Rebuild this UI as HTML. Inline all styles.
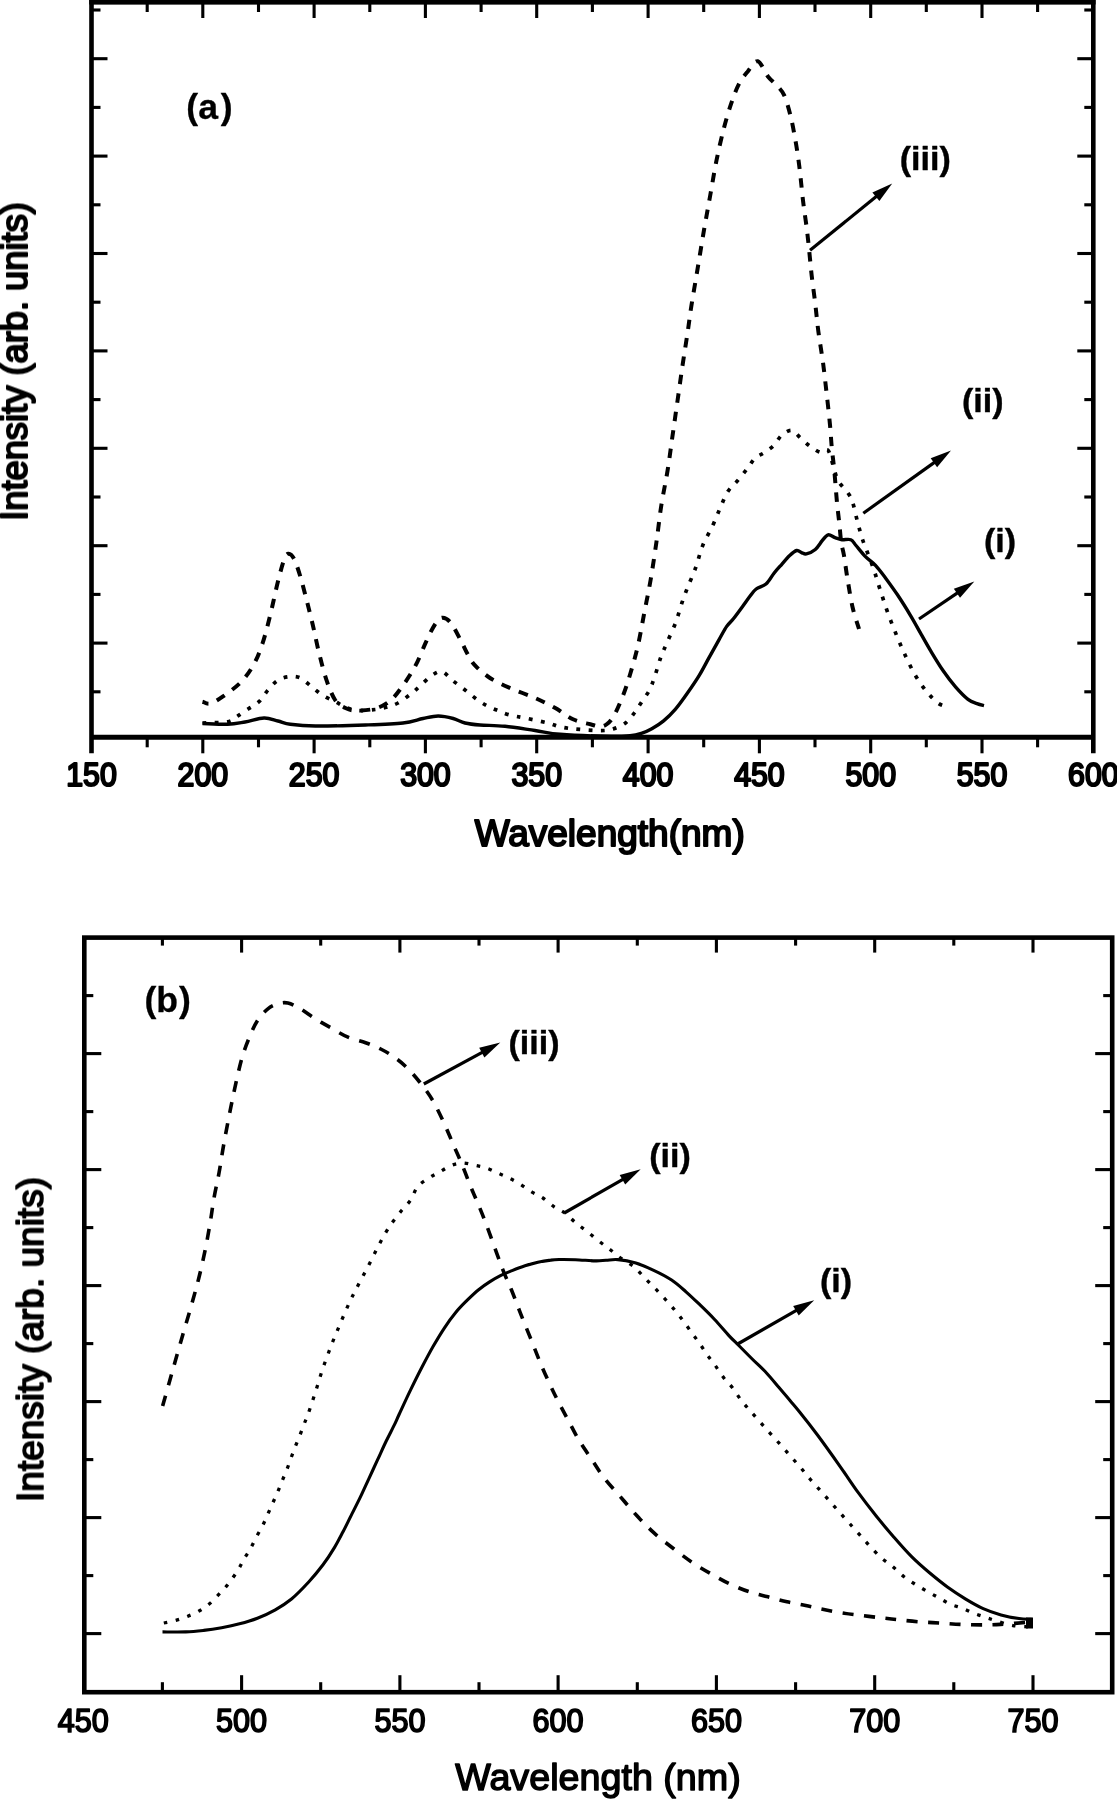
<!DOCTYPE html>
<html lang="en"><head><meta charset="utf-8"><title>Spectra</title>
<style>html,body{margin:0;padding:0;background:#fff}body{width:1117px;height:1800px;overflow:hidden}svg{display:block}</style></head>
<body>
<svg width="1117" height="1800" viewBox="0 0 1117 1800">
<defs><filter id="bl" x="-2%" y="-2%" width="104%" height="104%"><feGaussianBlur stdDeviation="0.75"/></filter></defs>
<rect width="100%" height="100%" fill="#fff"/>
<g filter="url(#bl)">
<g stroke="#000" fill="none" stroke-width="4.6" stroke-linecap="butt">
<path d="M91.5,753.3 V2.0 H1093.3 V753.3"/>
<path d="M91.5,737.3 H1093.3" stroke-width="5"/>
<path d="M89.2,-0.8 H1095.6" stroke-width="10.4"/>
</g>
<g stroke="#000" stroke-width="3.1">
<line x1="147.2" y1="2.0" x2="147.2" y2="12.0"/>
<line x1="147.2" y1="737.3" x2="147.2" y2="747.3"/>
<line x1="202.8" y1="2.0" x2="202.8" y2="18.0"/>
<line x1="202.8" y1="737.3" x2="202.8" y2="753.3"/>
<line x1="258.5" y1="2.0" x2="258.5" y2="12.0"/>
<line x1="258.5" y1="737.3" x2="258.5" y2="747.3"/>
<line x1="314.1" y1="2.0" x2="314.1" y2="18.0"/>
<line x1="314.1" y1="737.3" x2="314.1" y2="753.3"/>
<line x1="369.8" y1="2.0" x2="369.8" y2="12.0"/>
<line x1="369.8" y1="737.3" x2="369.8" y2="747.3"/>
<line x1="425.4" y1="2.0" x2="425.4" y2="18.0"/>
<line x1="425.4" y1="737.3" x2="425.4" y2="753.3"/>
<line x1="481.1" y1="2.0" x2="481.1" y2="12.0"/>
<line x1="481.1" y1="737.3" x2="481.1" y2="747.3"/>
<line x1="536.7" y1="2.0" x2="536.7" y2="18.0"/>
<line x1="536.7" y1="737.3" x2="536.7" y2="753.3"/>
<line x1="592.4" y1="2.0" x2="592.4" y2="12.0"/>
<line x1="592.4" y1="737.3" x2="592.4" y2="747.3"/>
<line x1="648.1" y1="2.0" x2="648.1" y2="18.0"/>
<line x1="648.1" y1="737.3" x2="648.1" y2="753.3"/>
<line x1="703.7" y1="2.0" x2="703.7" y2="12.0"/>
<line x1="703.7" y1="737.3" x2="703.7" y2="747.3"/>
<line x1="759.4" y1="2.0" x2="759.4" y2="18.0"/>
<line x1="759.4" y1="737.3" x2="759.4" y2="753.3"/>
<line x1="815.0" y1="2.0" x2="815.0" y2="12.0"/>
<line x1="815.0" y1="737.3" x2="815.0" y2="747.3"/>
<line x1="870.7" y1="2.0" x2="870.7" y2="18.0"/>
<line x1="870.7" y1="737.3" x2="870.7" y2="753.3"/>
<line x1="926.3" y1="2.0" x2="926.3" y2="12.0"/>
<line x1="926.3" y1="737.3" x2="926.3" y2="747.3"/>
<line x1="982.0" y1="2.0" x2="982.0" y2="18.0"/>
<line x1="982.0" y1="737.3" x2="982.0" y2="753.3"/>
<line x1="1037.6" y1="2.0" x2="1037.6" y2="12.0"/>
<line x1="1037.6" y1="737.3" x2="1037.6" y2="747.3"/>
<line x1="91.5" y1="10.0" x2="100.5" y2="10.0"/>
<line x1="1093.3" y1="10.0" x2="1084.3" y2="10.0"/>
<line x1="91.5" y1="58.7" x2="107.5" y2="58.7"/>
<line x1="1093.3" y1="58.7" x2="1077.3" y2="58.7"/>
<line x1="91.5" y1="107.4" x2="100.5" y2="107.4"/>
<line x1="1093.3" y1="107.4" x2="1084.3" y2="107.4"/>
<line x1="91.5" y1="156.1" x2="107.5" y2="156.1"/>
<line x1="1093.3" y1="156.1" x2="1077.3" y2="156.1"/>
<line x1="91.5" y1="204.8" x2="100.5" y2="204.8"/>
<line x1="1093.3" y1="204.8" x2="1084.3" y2="204.8"/>
<line x1="91.5" y1="253.5" x2="107.5" y2="253.5"/>
<line x1="1093.3" y1="253.5" x2="1077.3" y2="253.5"/>
<line x1="91.5" y1="302.2" x2="100.5" y2="302.2"/>
<line x1="1093.3" y1="302.2" x2="1084.3" y2="302.2"/>
<line x1="91.5" y1="350.9" x2="107.5" y2="350.9"/>
<line x1="1093.3" y1="350.9" x2="1077.3" y2="350.9"/>
<line x1="91.5" y1="399.6" x2="100.5" y2="399.6"/>
<line x1="1093.3" y1="399.6" x2="1084.3" y2="399.6"/>
<line x1="91.5" y1="448.3" x2="107.5" y2="448.3"/>
<line x1="1093.3" y1="448.3" x2="1077.3" y2="448.3"/>
<line x1="91.5" y1="497.0" x2="100.5" y2="497.0"/>
<line x1="1093.3" y1="497.0" x2="1084.3" y2="497.0"/>
<line x1="91.5" y1="545.7" x2="107.5" y2="545.7"/>
<line x1="1093.3" y1="545.7" x2="1077.3" y2="545.7"/>
<line x1="91.5" y1="594.4" x2="100.5" y2="594.4"/>
<line x1="1093.3" y1="594.4" x2="1084.3" y2="594.4"/>
<line x1="91.5" y1="643.1" x2="107.5" y2="643.1"/>
<line x1="1093.3" y1="643.1" x2="1077.3" y2="643.1"/>
<line x1="91.5" y1="691.8" x2="100.5" y2="691.8"/>
<line x1="1093.3" y1="691.8" x2="1084.3" y2="691.8"/>
</g>
<g stroke="#000" fill="none" stroke-width="4.6">
<rect x="84.3" y="937.6" width="1027.9" height="754.6"/>
</g>
<g stroke="#000" stroke-width="3.1">
<line x1="162.4" y1="937.6" x2="162.4" y2="945.6"/>
<line x1="162.4" y1="1692.2" x2="162.4" y2="1682.2"/>
<line x1="241.6" y1="937.6" x2="241.6" y2="952.6"/>
<line x1="241.6" y1="1692.2" x2="241.6" y2="1675.2"/>
<line x1="320.7" y1="937.6" x2="320.7" y2="945.6"/>
<line x1="320.7" y1="1692.2" x2="320.7" y2="1682.2"/>
<line x1="399.9" y1="937.6" x2="399.9" y2="952.6"/>
<line x1="399.9" y1="1692.2" x2="399.9" y2="1675.2"/>
<line x1="479.0" y1="937.6" x2="479.0" y2="945.6"/>
<line x1="479.0" y1="1692.2" x2="479.0" y2="1682.2"/>
<line x1="558.1" y1="937.6" x2="558.1" y2="952.6"/>
<line x1="558.1" y1="1692.2" x2="558.1" y2="1675.2"/>
<line x1="637.3" y1="937.6" x2="637.3" y2="945.6"/>
<line x1="637.3" y1="1692.2" x2="637.3" y2="1682.2"/>
<line x1="716.4" y1="937.6" x2="716.4" y2="952.6"/>
<line x1="716.4" y1="1692.2" x2="716.4" y2="1675.2"/>
<line x1="795.6" y1="937.6" x2="795.6" y2="945.6"/>
<line x1="795.6" y1="1692.2" x2="795.6" y2="1682.2"/>
<line x1="874.7" y1="937.6" x2="874.7" y2="952.6"/>
<line x1="874.7" y1="1692.2" x2="874.7" y2="1675.2"/>
<line x1="953.8" y1="937.6" x2="953.8" y2="945.6"/>
<line x1="953.8" y1="1692.2" x2="953.8" y2="1682.2"/>
<line x1="1033.0" y1="937.6" x2="1033.0" y2="952.6"/>
<line x1="1033.0" y1="1692.2" x2="1033.0" y2="1675.2"/>
<line x1="84.3" y1="995.6" x2="93.3" y2="995.6"/>
<line x1="1112.2" y1="995.6" x2="1103.2" y2="995.6"/>
<line x1="84.3" y1="1053.6" x2="101.3" y2="1053.6"/>
<line x1="1112.2" y1="1053.6" x2="1095.2" y2="1053.6"/>
<line x1="84.3" y1="1111.6" x2="93.3" y2="1111.6"/>
<line x1="1112.2" y1="1111.6" x2="1103.2" y2="1111.6"/>
<line x1="84.3" y1="1169.6" x2="101.3" y2="1169.6"/>
<line x1="1112.2" y1="1169.6" x2="1095.2" y2="1169.6"/>
<line x1="84.3" y1="1227.6" x2="93.3" y2="1227.6"/>
<line x1="1112.2" y1="1227.6" x2="1103.2" y2="1227.6"/>
<line x1="84.3" y1="1285.6" x2="101.3" y2="1285.6"/>
<line x1="1112.2" y1="1285.6" x2="1095.2" y2="1285.6"/>
<line x1="84.3" y1="1343.6" x2="93.3" y2="1343.6"/>
<line x1="1112.2" y1="1343.6" x2="1103.2" y2="1343.6"/>
<line x1="84.3" y1="1401.6" x2="101.3" y2="1401.6"/>
<line x1="1112.2" y1="1401.6" x2="1095.2" y2="1401.6"/>
<line x1="84.3" y1="1459.6" x2="93.3" y2="1459.6"/>
<line x1="1112.2" y1="1459.6" x2="1103.2" y2="1459.6"/>
<line x1="84.3" y1="1517.6" x2="101.3" y2="1517.6"/>
<line x1="1112.2" y1="1517.6" x2="1095.2" y2="1517.6"/>
<line x1="84.3" y1="1575.6" x2="93.3" y2="1575.6"/>
<line x1="1112.2" y1="1575.6" x2="1103.2" y2="1575.6"/>
<line x1="84.3" y1="1633.6" x2="101.3" y2="1633.6"/>
<line x1="1112.2" y1="1633.6" x2="1095.2" y2="1633.6"/>
</g>
<g fill="none" stroke="#000" stroke-linejoin="round">
<path d="M202.5,723.5C206.7,723.6 220.5,724.5 227.6,724.3C234.7,724.0 238.9,723.0 245.0,722.0C251.1,721.0 258.5,718.2 264.0,718.0C269.5,717.8 273.6,720.0 278.0,721.0C282.4,722.0 284.1,723.5 290.3,724.3C296.5,725.1 302.9,725.9 315.4,726.0C327.9,726.1 350.9,725.5 365.5,725.0C380.1,724.5 393.4,724.1 403.0,723.0C412.6,721.9 417.1,719.7 423.0,718.5C428.9,717.3 433.2,716.0 438.2,716.0C443.2,716.0 448.7,717.3 453.2,718.5C457.7,719.7 460.5,721.9 465.0,723.0C469.5,724.1 473.3,724.5 480.0,725.0C486.7,725.5 495.8,725.4 505.0,726.3C514.2,727.2 525.8,729.2 535.0,730.5C544.2,731.8 549.2,733.4 560.0,734.3C570.8,735.2 588.3,735.8 600.0,736.0C611.7,736.2 623.0,736.1 630.0,735.6C637.0,735.1 638.4,734.3 642.0,733.2C645.6,732.1 648.2,730.8 651.8,728.8C655.4,726.8 659.6,724.2 663.6,720.9C667.6,717.6 671.5,713.7 675.5,709.1C679.5,704.5 683.4,698.9 687.3,693.3C691.2,687.7 695.5,681.5 699.1,675.6C702.7,669.7 705.6,663.8 708.9,657.9C712.2,652.0 715.8,645.4 718.8,640.1C721.8,634.9 724.2,630.0 726.7,626.4C729.2,622.8 731.0,621.8 733.6,618.5C736.2,615.2 739.6,610.5 742.4,606.7C745.2,602.9 748.0,598.8 750.3,595.8C752.6,592.8 753.6,591.0 756.2,589.0C758.8,587.0 763.0,586.6 766.0,584.0C769.0,581.4 771.4,576.5 774.0,573.2C776.6,569.9 779.2,567.2 781.8,564.3C784.4,561.3 787.2,557.8 789.7,555.5C792.2,553.2 794.6,551.0 796.6,550.5C798.6,550.0 800.4,552.2 802.0,552.8C803.6,553.4 804.2,554.4 806.4,553.9C808.6,553.4 812.7,551.7 815.3,549.5C817.9,547.3 820.1,543.2 822.2,540.7C824.3,538.2 826.0,535.3 828.1,534.8C830.2,534.3 832.7,536.9 835.0,537.7C837.3,538.5 839.3,539.4 841.9,539.7C844.5,540.0 848.4,538.7 850.8,539.7C853.1,540.7 853.6,542.7 856.0,545.5C858.4,548.3 862.0,553.1 865.2,556.4C868.4,559.7 871.9,561.7 875.3,565.2C878.6,568.8 881.5,572.7 885.3,577.7C889.0,582.7 893.6,589.0 897.8,595.3C902.0,601.6 906.6,609.0 910.4,615.3C914.2,621.6 917.1,627.0 920.4,632.9C923.7,638.8 926.6,644.1 930.4,650.4C934.2,656.7 938.8,664.4 943.0,670.5C947.2,676.6 951.3,682.0 955.5,686.8C959.7,691.6 964.4,696.5 968.0,699.3C971.6,702.1 974.3,702.5 977.0,703.6C979.7,704.7 982.8,705.3 984.0,705.6" stroke-width="3.4"/>
<path d="M202.5,701.7C203.8,702.0 206.7,704.5 210.0,703.7C213.3,702.9 217.4,700.4 222.6,696.7C227.8,693.0 236.2,687.2 241.4,681.7C246.6,676.2 250.4,670.5 254.0,664.0C257.6,657.5 260.0,650.9 262.7,642.8C265.4,634.7 267.7,625.2 270.2,615.2C272.7,605.2 275.4,591.8 277.7,582.6C280.0,573.4 282.2,564.8 284.0,560.0C285.8,555.2 286.6,554.0 288.3,553.8C290.0,553.6 292.0,555.0 294.0,558.8C296.0,562.6 298.2,569.5 300.3,576.4C302.4,583.3 304.5,591.9 306.6,600.0C308.7,608.1 310.7,616.2 312.8,625.0C314.9,633.8 316.7,643.6 319.0,652.8C321.3,662.0 323.9,672.4 326.6,680.4C329.3,688.4 332.3,695.9 335.4,700.5C338.5,705.1 342.0,706.3 345.4,708.0C348.8,709.7 350.5,710.4 355.5,710.5C360.5,710.6 369.7,710.2 375.5,708.5C381.3,706.8 385.9,704.4 390.5,700.5C395.1,696.6 398.8,691.2 403.0,685.4C407.2,679.5 411.8,672.5 415.6,665.4C419.4,658.3 422.5,649.5 425.6,642.8C428.7,636.1 431.7,629.5 434.4,625.3C437.1,621.1 439.3,618.1 442.0,617.7C444.7,617.3 447.6,618.9 450.7,622.7C453.8,626.5 457.8,634.9 460.7,640.3C463.6,645.7 465.9,651.1 468.3,655.3C470.7,659.5 471.4,661.6 475.0,665.4C478.6,669.2 484.2,674.2 490.0,678.0C495.8,681.8 502.5,684.7 510.0,688.0C517.5,691.3 527.5,694.7 535.0,698.0C542.5,701.3 549.0,704.5 555.3,708.0C561.6,711.5 567.1,716.6 573.0,719.3C578.9,722.0 585.9,723.1 590.4,724.3C594.9,725.5 597.2,726.5 600.0,726.5C602.8,726.5 604.7,725.8 607.0,724.0C609.3,722.2 611.3,720.2 614.0,715.5C616.7,710.8 620.2,702.6 623.0,695.5C625.8,688.4 628.0,681.4 630.5,673.0C633.0,664.6 635.7,655.3 638.0,645.3C640.3,635.2 642.2,623.6 644.3,612.7C646.4,601.8 648.6,591.6 650.6,580.0C652.6,568.4 654.5,555.4 656.3,543.0C658.1,530.6 659.4,517.6 661.3,505.5C663.2,493.4 665.7,482.1 667.6,470.4C669.5,458.7 670.9,447.0 672.6,435.3C674.3,423.6 675.9,411.9 677.6,400.2C679.3,388.5 680.9,376.3 682.6,365.0C684.3,353.7 686.1,342.4 687.6,332.5C689.1,322.6 689.7,316.5 691.4,305.8C693.1,295.1 695.6,280.7 697.7,268.2C699.8,255.7 701.8,242.7 703.9,230.6C706.0,218.5 708.1,207.2 710.2,195.5C712.3,183.8 714.2,171.7 716.5,160.4C718.8,149.1 721.5,137.4 724.0,127.8C726.5,118.2 729.0,110.0 731.5,102.7C734.0,95.4 736.3,89.1 739.0,83.9C741.7,78.7 744.7,75.2 747.8,71.4C750.9,67.6 754.4,60.5 757.8,61.3C761.1,62.1 764.8,72.4 767.9,76.4C771.0,80.4 773.9,82.1 776.6,85.2C779.3,88.3 781.8,90.2 784.1,95.2C786.4,100.2 788.5,107.7 790.4,115.2C792.3,122.7 793.9,131.9 795.4,140.3C796.9,148.7 797.9,155.4 799.2,165.4C800.5,175.4 801.8,190.1 803.0,200.5C804.2,210.9 805.7,219.7 806.7,228.0C807.7,236.3 808.4,242.7 809.2,250.6C810.0,258.6 810.7,266.5 811.7,275.7C812.8,284.9 814.4,296.3 815.5,305.8C816.6,315.3 817.2,323.0 818.5,332.5C819.8,342.0 821.6,352.2 823.0,362.6C824.4,373.0 825.6,384.6 826.8,395.0C828.0,405.4 829.2,416.2 830.0,425.0C830.8,433.8 831.1,440.2 831.8,447.8C832.5,455.4 833.5,461.6 834.3,470.4C835.1,479.2 836.0,491.7 836.8,500.5C837.6,509.3 838.5,515.9 839.3,523.0C840.0,530.1 840.5,537.7 841.3,543.0C842.1,548.3 842.8,548.8 843.9,555.0C845.0,561.2 846.2,571.4 847.7,580.2C849.2,589.0 850.8,599.7 852.7,607.8C854.6,615.9 858.0,625.5 859.0,629.0" stroke-width="4.0" stroke-dasharray="9.4 9.2" stroke-dashoffset="3"/>
<path d="M202.5,723.0C206.7,722.8 221.9,722.8 227.6,721.8C233.2,720.8 233.1,718.9 236.4,716.8C239.8,714.7 243.9,711.7 247.7,709.2C251.5,706.7 255.7,704.8 259.0,701.7C262.3,698.6 264.6,694.0 267.7,690.4C270.8,686.8 274.1,682.7 277.7,680.4C281.2,678.1 285.2,677.1 289.0,676.7C292.8,676.3 296.5,676.2 300.3,677.9C304.1,679.6 307.8,683.8 311.6,686.7C315.4,689.6 318.9,692.9 322.9,695.4C326.9,697.9 331.6,699.8 335.4,701.7C339.1,703.6 341.6,705.5 345.4,707.0C349.2,708.5 353.0,710.1 358.0,710.5C363.0,710.9 370.5,710.1 375.5,709.5C380.5,708.9 384.2,707.8 388.0,706.7C391.8,705.6 394.2,705.1 398.0,703.0C401.8,700.9 406.8,697.1 410.6,694.2C414.4,691.3 417.1,688.5 420.6,685.4C424.2,682.3 428.3,677.7 431.9,675.4C435.5,673.1 438.6,670.8 442.0,671.6C445.4,672.4 448.9,677.5 452.5,680.4C456.1,683.3 460.1,686.1 463.8,689.0C467.6,691.9 471.2,695.2 475.0,698.0C478.8,700.8 482.6,703.4 486.4,705.5C490.2,707.6 493.8,708.9 497.7,710.5C501.6,712.1 505.4,713.8 510.0,715.0C514.5,716.2 518.7,716.7 525.0,718.0C531.3,719.3 542.0,721.5 547.8,723.0C553.6,724.5 555.5,725.8 560.0,726.8C564.5,727.8 568.3,728.4 575.0,729.0C581.7,729.6 593.7,730.6 600.0,730.6C606.3,730.6 608.8,730.3 613.0,729.0C617.2,727.7 622.0,725.7 625.5,723.0C629.0,720.3 631.6,716.5 634.3,713.0C637.0,709.5 639.3,705.5 641.8,701.7C644.3,697.9 647.2,694.4 649.3,690.4C651.4,686.4 652.4,683.4 654.3,678.0C656.2,672.6 658.5,663.7 660.6,657.8C662.7,651.9 664.4,648.6 666.9,642.8C669.4,636.9 673.1,629.4 675.6,622.7C678.1,616.0 680.1,608.3 682.0,602.7C683.9,597.1 684.7,594.9 687.0,589.0C689.3,583.1 693.1,574.8 695.7,567.6C698.3,560.4 699.9,552.6 702.7,545.6C705.5,538.6 709.8,531.8 712.7,525.5C715.6,519.2 717.7,513.6 720.2,508.0C722.7,502.4 724.8,496.3 727.7,491.7C730.6,487.1 734.4,484.4 737.8,480.4C741.1,476.4 744.9,471.7 747.8,467.9C750.7,464.1 752.6,460.3 755.3,457.8C758.0,455.3 760.9,454.9 764.0,452.8C767.1,450.7 771.1,448.2 774.0,445.3C776.9,442.4 778.6,437.8 781.6,435.3C784.6,432.8 788.6,429.9 791.7,430.3C794.8,430.7 797.3,435.1 800.4,437.8C803.5,440.5 807.1,444.2 810.5,446.6C813.9,449.0 817.6,451.7 820.5,452.3C823.4,452.9 825.9,448.2 828.0,450.3C830.1,452.4 831.3,460.0 833.0,465.0C834.7,470.0 835.5,475.7 838.0,480.4C840.5,485.1 845.5,489.3 848.0,493.0C850.5,496.7 851.1,497.6 852.7,502.5C854.3,507.4 856.0,516.4 857.7,522.6C859.4,528.9 861.2,535.4 862.7,540.0C864.2,544.6 864.6,545.0 866.5,550.0C868.4,555.0 871.7,563.5 874.0,570.2C876.3,576.9 878.0,583.1 880.3,590.2C882.6,597.3 885.1,605.3 887.8,612.8C890.5,620.3 893.7,628.3 896.6,635.4C899.5,642.5 902.2,648.7 905.3,655.4C908.4,662.1 911.8,669.4 915.4,675.5C919.0,681.6 923.0,687.2 926.7,691.8C930.5,696.4 934.6,700.5 937.9,703.0C941.2,705.5 945.2,706.2 946.7,706.8" stroke-width="3.7" stroke-dasharray="3.8 8.4"/>
<path d="M162.5,1631.9C166.4,1631.9 178.9,1632.2 185.8,1631.9C192.7,1631.7 197.7,1631.1 203.7,1630.4C209.7,1629.7 215.6,1628.8 221.6,1627.7C227.6,1626.6 233.5,1625.4 239.5,1623.8C245.5,1622.2 251.4,1620.5 257.4,1618.2C263.4,1615.9 269.6,1613.0 275.3,1609.8C281.0,1606.6 285.9,1603.6 291.5,1599.0C297.1,1594.4 303.4,1587.7 308.7,1582.0C313.9,1576.3 318.7,1570.5 323.0,1564.8C327.3,1559.1 331.1,1553.1 334.4,1547.6C337.7,1542.1 340.1,1537.3 343.0,1531.8C345.9,1526.3 348.7,1520.3 351.6,1514.6C354.5,1508.9 357.3,1503.4 360.2,1497.4C363.1,1491.4 365.9,1485.0 368.8,1478.8C371.7,1472.6 374.5,1466.4 377.4,1460.2C380.3,1454.0 383.1,1447.5 386.0,1441.5C388.9,1435.5 392.4,1429.0 394.6,1424.4C396.8,1419.8 396.6,1419.8 399.3,1414.0C402.0,1408.2 406.8,1397.7 410.6,1389.9C414.4,1382.1 418.1,1374.6 421.9,1367.3C425.7,1360.0 429.4,1352.9 433.2,1346.3C437.0,1339.7 440.8,1333.4 444.5,1327.8C448.2,1322.2 451.9,1317.1 455.7,1312.5C459.4,1307.9 463.2,1304.2 467.0,1300.4C470.8,1296.7 474.5,1293.1 478.3,1290.0C482.1,1286.9 485.8,1284.3 489.6,1281.9C493.4,1279.5 497.1,1277.3 500.9,1275.4C504.6,1273.5 508.1,1272.2 512.1,1270.6C516.1,1269.0 520.7,1267.2 525.0,1265.8C529.3,1264.4 533.6,1263.2 537.9,1262.2C542.2,1261.2 547.1,1260.5 550.8,1260.1C554.5,1259.6 555.9,1259.6 560.0,1259.5C564.1,1259.4 569.6,1259.5 575.5,1259.7C581.4,1259.9 590.4,1260.8 595.5,1260.9C600.6,1261.0 602.3,1260.5 606.0,1260.3C609.7,1260.1 612.9,1259.1 617.9,1259.6C622.9,1260.0 629.8,1261.2 635.8,1263.0C641.8,1264.8 647.7,1267.5 653.7,1270.3C659.7,1273.1 666.2,1276.4 671.6,1280.0C677.0,1283.6 681.2,1287.6 686.0,1291.8C690.8,1296.0 695.5,1300.6 700.3,1305.2C705.1,1309.8 709.8,1314.4 714.6,1319.5C719.4,1324.6 724.9,1331.3 728.9,1335.6C732.9,1339.9 734.9,1341.6 738.8,1345.5C742.7,1349.4 747.6,1354.4 752.2,1359.0C756.8,1363.6 762.0,1368.2 766.5,1373.0C771.0,1377.8 775.1,1383.0 779.0,1387.6C782.9,1392.2 786.5,1396.3 790.0,1400.5C793.5,1404.7 795.4,1406.8 800.0,1412.5C804.6,1418.2 810.8,1426.0 817.5,1435.0C824.2,1444.0 833.3,1456.8 840.0,1466.3C846.7,1475.8 851.9,1484.0 857.9,1492.2C863.9,1500.4 869.8,1508.0 875.8,1515.5C881.8,1523.0 887.7,1530.1 893.7,1537.0C899.7,1543.9 905.6,1550.7 911.6,1556.7C917.6,1562.7 923.5,1567.8 929.5,1572.8C935.5,1577.8 941.4,1582.7 947.4,1587.0C953.4,1591.3 959.3,1595.2 965.3,1598.8C971.3,1602.4 977.2,1605.9 983.2,1608.6C989.2,1611.3 995.0,1613.2 1001.0,1614.9C1007.0,1616.6 1013.9,1617.8 1019.0,1618.5C1024.1,1619.2 1029.5,1619.2 1031.6,1619.4" stroke-width="3.1"/>
<path d="M162.6,1406.0C164.3,1400.1 169.3,1382.3 172.6,1370.5C175.9,1358.7 179.5,1346.3 182.6,1335.4C185.7,1324.5 188.7,1314.9 191.4,1305.3C194.1,1295.7 196.6,1286.9 198.9,1277.7C201.2,1268.5 203.3,1259.2 205.2,1250.0C207.1,1240.8 208.7,1231.3 210.2,1222.6C211.7,1213.9 212.5,1206.3 214.0,1198.0C215.5,1189.7 217.3,1182.2 219.0,1173.0C220.7,1163.8 222.1,1153.4 224.0,1143.0C225.9,1132.6 228.1,1120.9 230.2,1110.4C232.3,1100.0 234.4,1089.5 236.5,1080.3C238.6,1071.1 240.5,1062.7 242.8,1055.2C245.1,1047.7 247.8,1041.1 250.3,1035.2C252.8,1029.3 254.9,1024.4 257.8,1020.0C260.7,1015.6 264.5,1011.5 267.9,1008.8C271.2,1006.1 274.6,1004.8 277.9,1003.8C281.2,1002.8 284.1,1002.2 287.9,1003.0C291.6,1003.8 295.8,1006.1 300.4,1008.8C305.0,1011.4 310.5,1015.8 315.5,1018.9C320.5,1022.0 325.1,1024.5 330.5,1027.6C335.9,1030.6 342.1,1034.7 348.0,1037.2C353.9,1039.7 360.2,1040.7 365.6,1042.7C371.1,1044.7 376.1,1046.7 380.7,1049.0C385.3,1051.3 389.0,1053.6 393.2,1056.5C397.4,1059.4 401.2,1062.2 405.7,1066.5C410.2,1070.8 415.5,1076.9 420.0,1082.5C424.5,1088.1 428.6,1093.6 432.6,1100.3C436.6,1107.0 440.6,1115.7 443.9,1122.8C447.2,1129.9 449.7,1136.2 452.6,1142.9C455.5,1149.6 458.5,1155.9 461.4,1163.0C464.3,1170.1 467.5,1178.8 470.2,1185.5C472.9,1192.2 475.0,1196.4 477.7,1203.0C480.4,1209.6 483.4,1216.7 486.5,1225.0C489.6,1233.3 493.6,1244.6 496.5,1252.6C499.4,1260.5 501.5,1266.4 504.0,1272.7C506.5,1279.0 508.9,1283.5 511.6,1290.2C514.3,1296.9 517.2,1304.8 520.3,1312.8C523.4,1320.8 527.0,1329.5 530.4,1337.9C533.8,1346.3 537.1,1355.1 540.4,1363.0C543.7,1370.9 547.3,1378.9 550.4,1385.5C553.5,1392.1 555.7,1396.5 558.8,1402.5C561.9,1408.5 565.4,1415.0 568.8,1421.3C572.1,1427.5 575.1,1433.7 578.9,1440.0C582.7,1446.3 587.2,1452.7 591.4,1459.0C595.6,1465.3 599.2,1471.5 604.0,1477.7C608.8,1484.0 614.8,1490.2 620.2,1496.5C625.6,1502.8 630.9,1509.2 636.5,1515.3C642.1,1521.4 647.8,1527.3 654.0,1532.9C660.2,1538.5 667.5,1544.0 674.0,1549.0C680.5,1554.0 686.7,1558.8 693.0,1563.0C699.3,1567.2 705.5,1570.7 711.7,1574.2C718.0,1577.8 724.2,1581.4 730.5,1584.3C736.8,1587.2 743.0,1589.7 749.3,1591.8C755.5,1593.9 761.7,1595.1 768.0,1596.8C774.3,1598.5 780.7,1600.3 787.0,1601.8C793.3,1603.3 799.8,1604.3 805.7,1605.6C811.6,1606.8 816.5,1608.1 822.6,1609.3C828.8,1610.5 835.9,1612.0 842.6,1613.0C849.3,1614.0 856.0,1614.8 862.7,1615.6C869.4,1616.4 876.4,1617.3 882.7,1618.0C889.0,1618.7 894.0,1619.3 900.3,1620.0C906.6,1620.7 913.6,1621.4 920.3,1621.9C927.0,1622.4 933.7,1622.6 940.4,1623.0C947.1,1623.4 953.7,1624.1 960.4,1624.4C967.1,1624.7 973.8,1624.9 980.5,1624.9C987.2,1624.9 991.9,1624.9 1000.5,1624.4C1009.1,1623.9 1026.7,1622.3 1031.9,1621.9" stroke-width="3.6" stroke-dasharray="11 10.5"/>
<path d="M163.8,1623.0C165.7,1622.6 171.2,1621.6 175.0,1620.6C178.8,1619.6 182.6,1618.3 186.4,1616.8C190.2,1615.3 193.9,1613.9 197.7,1611.8C201.4,1609.7 205.2,1607.4 208.9,1604.3C212.7,1601.2 216.8,1596.5 220.2,1593.0C223.5,1589.5 226.1,1586.8 229.0,1583.0C231.9,1579.2 235.3,1574.4 237.8,1570.4C240.3,1566.4 241.9,1562.6 244.0,1559.0C246.1,1555.4 248.2,1552.7 250.3,1549.0C252.4,1545.3 254.5,1540.5 256.6,1536.6C258.7,1532.6 260.9,1529.1 262.8,1525.3C264.7,1521.5 266.2,1517.8 267.9,1514.0C269.6,1510.2 271.2,1506.5 272.9,1502.7C274.6,1498.9 276.3,1495.2 277.9,1491.4C279.5,1487.7 280.9,1483.8 282.4,1480.2C283.9,1476.6 285.2,1473.8 286.7,1470.0C288.2,1466.2 289.8,1461.5 291.2,1457.6C292.6,1453.6 293.9,1450.1 295.4,1446.3C296.9,1442.5 298.5,1438.8 300.0,1435.0C301.5,1431.2 302.9,1427.2 304.2,1423.8C305.5,1420.3 306.1,1419.6 308.0,1414.3C309.9,1409.0 313.0,1399.5 315.5,1391.8C318.0,1384.1 320.3,1376.0 323.0,1368.0C325.7,1360.0 328.9,1351.6 331.8,1344.1C334.7,1336.6 337.7,1329.7 340.6,1322.8C343.5,1315.9 346.4,1309.1 349.3,1302.8C352.2,1296.5 355.0,1291.3 358.1,1285.2C361.2,1279.1 365.0,1272.5 368.1,1266.4C371.2,1260.4 374.0,1254.5 376.9,1248.9C379.8,1243.3 383.0,1237.2 385.7,1232.6C388.4,1228.0 390.5,1225.1 393.2,1221.3C395.9,1217.5 399.1,1213.5 402.0,1210.0C404.9,1206.5 408.1,1203.9 410.7,1200.0C413.3,1196.1 414.5,1190.5 417.5,1186.8C420.5,1183.1 425.1,1180.5 428.8,1178.0C432.6,1175.5 436.2,1173.8 440.0,1171.7C443.8,1169.6 447.6,1166.9 451.4,1165.4C455.2,1164.0 458.7,1163.0 462.7,1163.0C466.7,1163.0 471.2,1164.6 475.2,1165.4C479.2,1166.2 482.7,1166.7 486.5,1168.0C490.3,1169.3 494.1,1171.3 497.8,1173.0C501.6,1174.7 505.2,1176.1 509.0,1178.0C512.8,1179.9 516.5,1181.9 520.3,1184.2C524.1,1186.5 527.8,1189.5 531.6,1191.8C535.4,1194.1 539.1,1195.5 542.9,1198.0C546.7,1200.5 550.7,1204.4 554.2,1206.8C557.8,1209.2 560.7,1209.9 564.2,1212.5C567.8,1215.1 571.7,1219.5 575.5,1222.6C579.3,1225.7 582.8,1228.2 586.8,1231.3C590.8,1234.4 595.3,1238.3 599.3,1241.4C603.3,1244.5 606.8,1247.1 610.6,1250.0C614.4,1252.9 617.9,1256.1 621.9,1258.9C625.9,1261.7 630.6,1263.9 634.4,1267.0C638.1,1270.1 641.0,1274.2 644.4,1277.7C647.8,1281.2 651.1,1284.2 654.5,1287.7C657.9,1291.2 661.6,1295.2 665.0,1299.0C668.4,1302.8 671.9,1306.5 675.0,1310.3C678.1,1314.1 680.9,1317.6 683.8,1321.6C686.7,1325.5 689.9,1330.3 692.6,1334.0C695.3,1337.7 697.5,1340.4 700.0,1344.0C702.5,1347.6 705.1,1351.8 707.6,1355.4C710.1,1359.0 712.5,1361.7 715.2,1365.5C717.9,1369.3 721.0,1374.2 723.9,1378.0C726.8,1381.8 729.8,1384.2 732.7,1388.0C735.6,1391.8 738.5,1396.7 741.5,1400.6C744.5,1404.5 747.4,1407.6 750.6,1411.3C753.8,1415.0 757.3,1418.8 760.6,1422.6C763.9,1426.3 767.2,1430.1 770.6,1433.8C774.0,1437.5 777.4,1441.2 780.7,1445.0C784.1,1448.8 787.4,1452.6 790.7,1456.4C794.0,1460.2 797.5,1463.9 800.7,1467.7C803.9,1471.5 806.8,1475.2 810.0,1479.0C813.2,1482.8 816.7,1486.5 820.0,1490.2C823.3,1494.0 826.7,1497.7 830.0,1501.5C833.3,1505.3 836.7,1509.0 840.0,1512.8C843.3,1516.5 846.6,1520.2 850.0,1524.0C853.4,1527.8 856.8,1531.6 860.2,1535.4C863.6,1539.2 866.7,1542.8 870.2,1546.6C873.8,1550.4 877.7,1554.7 881.5,1558.0C885.3,1561.3 889.0,1563.6 892.8,1566.7C896.5,1569.8 900.2,1573.8 904.0,1576.7C907.8,1579.6 911.3,1581.8 915.3,1584.3C919.3,1586.8 923.9,1589.5 927.9,1591.8C931.9,1594.1 935.4,1595.9 939.1,1598.0C942.9,1600.1 946.6,1602.6 950.4,1604.3C954.2,1606.0 957.9,1606.5 961.7,1608.0C965.5,1609.5 969.2,1611.5 973.0,1613.0C976.8,1614.5 980.5,1615.6 984.3,1616.9C988.0,1618.2 990.7,1619.1 995.5,1620.6C1000.3,1622.0 1006.9,1624.5 1013.0,1625.6C1019.1,1626.6 1028.8,1626.7 1031.9,1626.9" stroke-width="3.3" stroke-dasharray="3.6 8.6"/>
<rect x="1026" y="1617.5" width="7" height="11" fill="#000" stroke="none"/>
</g>
<line x1="810.0" y1="250.3" x2="877.5" y2="195.5" stroke="#000" stroke-width="3.2"/><polygon points="892.2,183.5 879.4,201.0 872.4,192.5" fill="#000"/>
<line x1="863.3" y1="513.2" x2="935.5" y2="461.6" stroke="#000" stroke-width="3.2"/><polygon points="951.0,450.6 937.1,467.3 930.7,458.3" fill="#000"/>
<line x1="919.0" y1="619.0" x2="958.6" y2="592.2" stroke="#000" stroke-width="3.2"/><polygon points="974.3,581.5 960.0,597.8 953.8,588.7" fill="#000"/>
<line x1="423.8" y1="1084.0" x2="483.6" y2="1051.6" stroke="#000" stroke-width="3.2"/><polygon points="500.3,1042.6 484.4,1057.4 479.2,1047.8" fill="#000"/>
<line x1="564.2" y1="1213.0" x2="624.2" y2="1178.6" stroke="#000" stroke-width="3.2"/><polygon points="640.7,1169.2 625.2,1184.4 619.7,1174.9" fill="#000"/>
<line x1="737.7" y1="1344.0" x2="797.7" y2="1309.7" stroke="#000" stroke-width="3.2"/><polygon points="814.2,1300.3 798.7,1315.5 793.2,1305.9" fill="#000"/>
<g font-family="'Liberation Sans', Arial, sans-serif" fill="#000" stroke="#000" stroke-width="2.0" stroke-linejoin="round">
<text transform="translate(91.5,786.4) scale(1,1.07)" font-size="30.3" text-anchor="middle">150</text>
<text transform="translate(202.8,786.4) scale(1,1.07)" font-size="30.3" text-anchor="middle">200</text>
<text transform="translate(314.1,786.4) scale(1,1.07)" font-size="30.3" text-anchor="middle">250</text>
<text transform="translate(425.4,786.4) scale(1,1.07)" font-size="30.3" text-anchor="middle">300</text>
<text transform="translate(536.7,786.4) scale(1,1.07)" font-size="30.3" text-anchor="middle">350</text>
<text transform="translate(648.1,786.4) scale(1,1.07)" font-size="30.3" text-anchor="middle">400</text>
<text transform="translate(759.4,786.4) scale(1,1.07)" font-size="30.3" text-anchor="middle">450</text>
<text transform="translate(870.7,786.4) scale(1,1.07)" font-size="30.3" text-anchor="middle">500</text>
<text transform="translate(982.0,786.4) scale(1,1.07)" font-size="30.3" text-anchor="middle">550</text>
<text transform="translate(1093.3,786.4) scale(1,1.07)" font-size="30.3" text-anchor="middle">600</text>
<text transform="translate(83.3,1732.4) scale(1,1.07)" font-size="30.6" stroke-width="1.6" text-anchor="middle">450</text>
<text transform="translate(241.6,1732.4) scale(1,1.07)" font-size="30.6" stroke-width="1.6" text-anchor="middle">500</text>
<text transform="translate(399.9,1732.4) scale(1,1.07)" font-size="30.6" stroke-width="1.6" text-anchor="middle">550</text>
<text transform="translate(558.1,1732.4) scale(1,1.07)" font-size="30.6" stroke-width="1.6" text-anchor="middle">600</text>
<text transform="translate(716.4,1732.4) scale(1,1.07)" font-size="30.6" stroke-width="1.6" text-anchor="middle">650</text>
<text transform="translate(874.7,1732.4) scale(1,1.07)" font-size="30.6" stroke-width="1.6" text-anchor="middle">700</text>
<text transform="translate(1033.0,1732.4) scale(1,1.07)" font-size="30.6" stroke-width="1.6" text-anchor="middle">750</text>
<text x="609.7" y="846.3" font-size="37" text-anchor="middle">Wavelength(nm)</text>
<text x="598" y="1790" font-size="37.7" stroke-width="1.5" text-anchor="middle">Wavelength (nm)</text>
<text transform="translate(27,361.5) rotate(-90)" font-size="36.3" text-anchor="middle">Intensity (arb. units)</text>
<text transform="translate(43,1339.5) rotate(-90)" font-size="37" stroke-width="1.7" text-anchor="middle">Intensity (arb. units)</text>
<text x="186.3 198.2 220.8" y="118.6" font-size="35.6" font-weight="bold" stroke-width="0.3">(a)</text>
<text x="144.5 156.2 179" y="1012.4" font-size="35.6" font-weight="bold" stroke-width="0.3">(b)</text>
<text x="925.3" y="169.6" font-size="34" font-weight="bold" stroke-width="0.4" text-anchor="middle">(iii)</text>
<text x="982.8" y="412.2" font-size="34" font-weight="bold" stroke-width="0.4" text-anchor="middle">(ii)</text>
<text x="1000" y="552" font-size="34" font-weight="bold" stroke-width="0.4" text-anchor="middle">(i)</text>
<text x="534" y="1054" font-size="34" font-weight="bold" stroke-width="0.4" text-anchor="middle">(iii)</text>
<text x="670" y="1167" font-size="34" font-weight="bold" stroke-width="0.4" text-anchor="middle">(ii)</text>
<text x="836" y="1292" font-size="34" font-weight="bold" stroke-width="0.4" text-anchor="middle">(i)</text>
</g>
</g>
</svg>
</body></html>
